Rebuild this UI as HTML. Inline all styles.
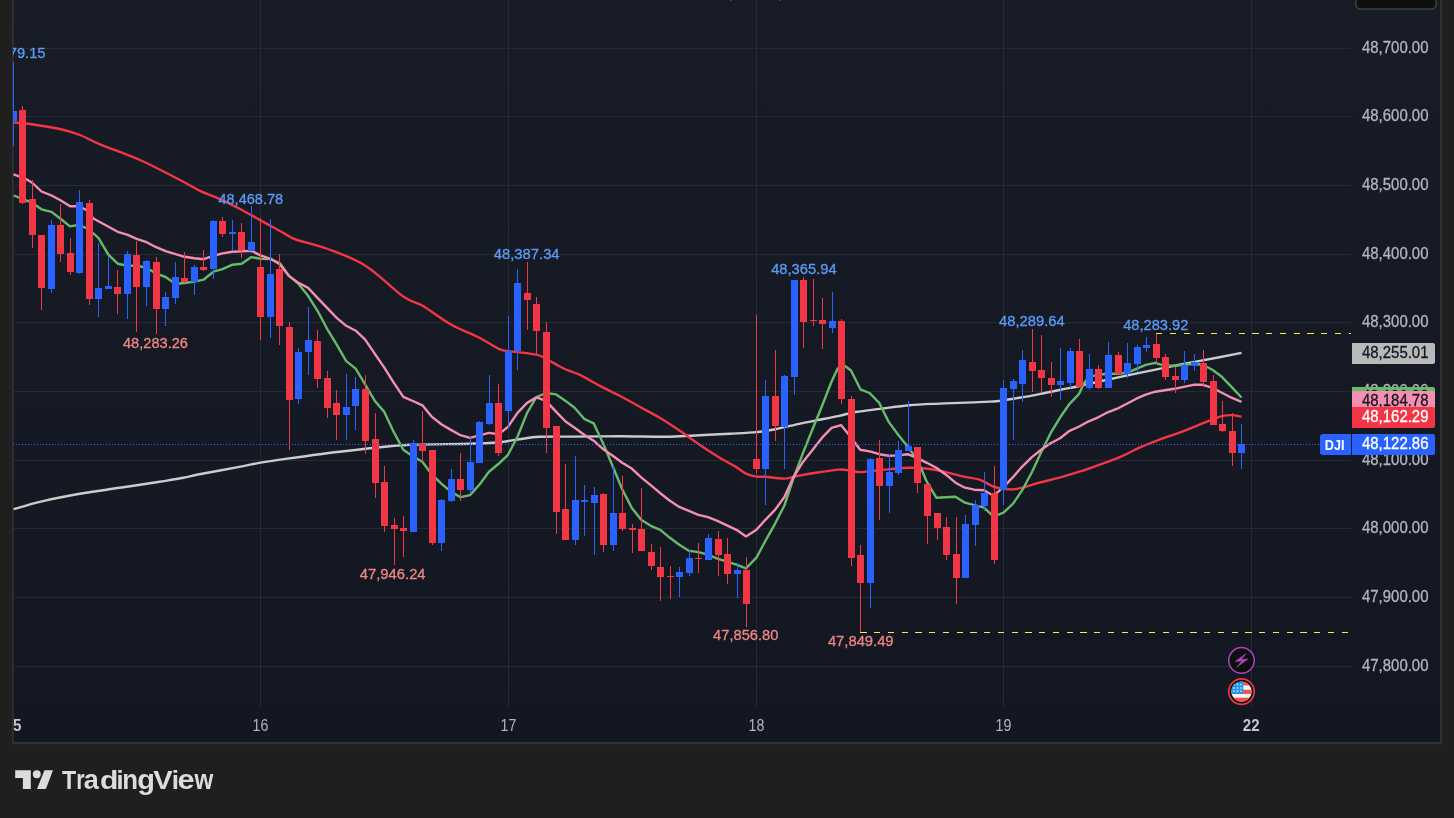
<!DOCTYPE html>
<html><head><meta charset="utf-8"><title>DJI chart</title>
<style>html,body{margin:0;padding:0;background:#1f1f1f;overflow:hidden}body{width:1454px;height:818px;position:relative;font-family:'Liberation Sans', sans-serif}svg{display:block;position:absolute;left:0;top:0;will-change:transform}text{font-family:'Liberation Sans', sans-serif}</style></head><body>
<svg width="1454" height="818" viewBox="0 0 1454 818">
<defs>
<linearGradient id="bg" x1="0" y1="0" x2="0" y2="1"><stop offset="0" stop-color="#181c27"/><stop offset="1" stop-color="#131722"/></linearGradient>
<clipPath id="pane"><rect x="13" y="0" width="1338.0" height="707"/></clipPath>
<clipPath id="chart"><rect x="13.7" y="0" width="1426.3" height="742"/></clipPath>
<clipPath id="flag"><circle cx="1241.5" cy="691.6" r="10.2"/></clipPath>
</defs>
<rect x="0" y="0" width="1454" height="818" fill="#1f1f1f"/>
<rect x="12" y="-2" width="1430" height="746.2" fill="#313131"/>
<rect x="13.7" y="-40" width="1426.3" height="747" fill="url(#bg)"/>
<rect x="13.7" y="707" width="1426.3" height="35" fill="#131722"/>
<g shape-rendering="crispEdges" fill="#262a35">
<rect x="13" y="48" width="1338" height="1"/>
<rect x="13" y="116" width="1338" height="1"/>
<rect x="13" y="185" width="1338" height="1"/>
<rect x="13" y="254" width="1338" height="1"/>
<rect x="13" y="322" width="1338" height="1"/>
<rect x="13" y="391" width="1338" height="1"/>
<rect x="13" y="460" width="1338" height="1"/>
<rect x="13" y="528" width="1338" height="1"/>
<rect x="13" y="597" width="1338" height="1"/>
<rect x="13" y="666" width="1338" height="1"/>
<rect x="260" y="0" width="1" height="707"/>
<rect x="508" y="0" width="1" height="707"/>
<rect x="756" y="0" width="1" height="707"/>
<rect x="1003" y="0" width="1" height="707"/>
<rect x="1251" y="0" width="1" height="707"/>
</g>
<g clip-path="url(#pane)">
<path d="M13.6,509.2 C18.0,508.0 28.9,504.4 39.9,501.8 C50.9,499.2 66.5,496.1 79.8,493.8 C93.1,491.5 106.4,489.8 119.7,487.8 C133.0,485.8 149.0,483.5 159.6,481.8 C170.2,480.1 176.9,479.1 183.5,477.8 C190.1,476.5 190.1,476.0 199.4,474.2 C208.7,472.4 229.3,468.8 239.3,466.9 C249.3,465.0 252.5,464.1 259.3,462.9 C266.1,461.7 269.9,461.1 280.0,459.6 C290.1,458.2 305.6,456.0 319.9,454.2 C334.2,452.4 350.9,450.4 365.8,448.8 C380.8,447.2 392.3,445.6 409.6,444.8 C426.9,444.0 454.5,444.2 469.5,443.8 C484.5,443.4 491.1,443.0 499.4,442.2 C507.7,441.4 512.6,440.1 519.3,439.2 C525.9,438.3 530.8,437.2 539.3,436.8 C547.8,436.4 556.6,436.7 570.0,436.6 C583.4,436.5 603.2,436.3 619.8,436.3 C636.4,436.3 656.4,436.9 669.7,436.7 C683.0,436.5 689.6,435.8 699.6,435.3 C709.6,434.8 720.0,434.2 729.5,433.7 C739.0,433.2 748.8,432.9 756.4,432.1 C764.0,431.4 768.2,430.6 775.4,429.2 C782.5,427.8 792.0,425.4 799.3,423.8 C806.6,422.2 812.6,421.1 819.3,419.8 C825.9,418.5 833.2,417.1 839.2,415.8 C845.2,414.5 848.9,413.1 855.6,412.0 C862.3,410.9 870.5,410.0 879.5,408.9 C888.5,407.8 899.4,406.1 909.4,405.2 C919.4,404.3 930.9,404.0 939.3,403.6 C947.7,403.2 951.2,403.2 959.7,402.9 C968.2,402.6 983.4,401.9 990.0,401.6 C996.6,401.3 994.7,401.5 999.6,400.9 C1004.5,400.3 1012.9,398.9 1019.5,397.8 C1026.1,396.7 1032.8,395.4 1039.4,394.1 C1046.1,392.8 1052.8,391.4 1059.4,390.0 C1066.1,388.6 1072.7,387.4 1079.3,386.0 C1085.9,384.6 1089.2,383.7 1099.3,381.5 C1109.3,379.3 1126.2,375.6 1139.6,372.8 C1152.9,370.0 1166.1,367.4 1179.4,364.8 C1192.7,362.2 1209.0,359.2 1219.3,357.2 C1229.6,355.2 1237.8,353.6 1241.5,352.9" fill="none" stroke="#cbcbcb" stroke-width="2.4" stroke-linejoin="round"/>
<path d="M13.6,122.5 C16.3,122.8 22.3,122.9 30.0,124.0 C37.7,125.1 51.7,127.2 60.0,129.0 C68.3,130.8 73.3,132.4 80.0,135.0 C86.7,137.6 90.0,140.1 100.0,144.3 C110.0,148.5 126.7,154.1 140.0,160.0 C153.3,165.9 170.0,174.9 180.0,180.0 C190.0,185.1 193.4,187.7 200.0,190.8 C206.6,193.9 212.9,195.8 219.5,198.8 C226.1,201.8 232.8,205.2 239.5,208.7 C246.2,212.2 252.7,216.0 259.4,219.7 C266.0,223.4 274.3,227.9 279.4,230.7 C284.5,233.5 287.1,235.1 290.0,236.7 C292.9,238.2 290.7,237.9 297.0,240.0 C303.3,242.1 316.4,244.7 327.9,249.0 C339.4,253.3 353.2,257.9 365.8,265.9 C378.4,273.9 394.2,290.1 403.7,296.8 C413.2,303.5 414.6,301.1 422.6,305.8 C430.6,310.5 442.0,319.5 451.5,324.8 C461.0,330.1 471.4,333.6 479.4,337.7 C487.4,341.8 494.6,346.9 499.4,349.1 C504.2,351.3 505.0,350.6 508.0,351.1 C511.0,351.6 512.8,351.5 517.5,352.1 C522.2,352.7 531.8,353.6 536.5,354.7 C541.2,355.8 542.2,356.8 546.0,358.7 C549.8,360.6 555.2,364.1 559.2,366.2 C563.2,368.3 566.5,369.8 570.0,371.2 C573.5,372.6 575.0,372.4 580.0,374.9 C585.0,377.3 593.3,382.4 599.9,385.9 C606.5,389.4 613.1,392.3 619.8,395.8 C626.4,399.3 633.1,403.1 639.8,406.8 C646.4,410.5 653.1,413.8 659.7,417.8 C666.4,421.8 673.1,426.2 679.7,430.7 C686.4,435.2 693.0,440.2 699.6,444.7 C706.2,449.2 713.6,454.0 719.6,457.7 C725.6,461.4 731.1,464.0 735.5,466.6 C739.9,469.2 742.5,471.9 746.0,473.6 C749.5,475.3 753.2,476.1 756.4,476.6 C759.6,477.1 760.7,476.5 765.4,476.8 C770.1,477.1 778.8,478.8 784.4,478.6 C790.0,478.4 793.5,476.7 799.3,475.6 C805.1,474.5 812.6,473.2 819.3,472.2 C825.9,471.2 834.1,469.9 839.2,469.6 C844.3,469.3 846.5,470.2 850.0,470.6 C853.5,471.0 855.0,472.2 860.0,472.1 C865.0,472.0 872.0,470.8 880.0,470.1 C888.0,469.4 899.8,468.0 907.8,467.8 C915.8,467.6 921.5,468.1 927.8,468.8 C934.1,469.5 939.7,470.8 945.7,472.1 C951.7,473.4 958.1,475.4 963.7,476.7 C969.4,478.0 974.6,478.0 979.6,479.7 C984.6,481.4 989.6,485.2 993.6,486.7 C997.6,488.2 1000.2,488.3 1003.5,488.7 C1006.8,489.1 1010.3,489.5 1013.5,489.3 C1016.7,489.1 1018.2,488.8 1022.5,487.7 C1026.8,486.6 1033.2,484.4 1039.4,482.7 C1045.6,481.0 1052.8,479.5 1059.4,477.7 C1066.1,475.9 1072.7,473.8 1079.3,471.7 C1085.9,469.6 1092.6,467.2 1099.3,464.8 C1106.0,462.4 1112.5,460.3 1119.2,457.4 C1125.9,454.5 1132.9,450.6 1139.6,447.6 C1146.3,444.6 1152.9,442.1 1159.5,439.6 C1166.1,437.1 1172.8,435.1 1179.4,432.6 C1186.1,430.1 1193.9,426.9 1199.4,424.7 C1204.9,422.5 1208.5,421.1 1212.3,419.7 C1216.0,418.3 1218.7,416.9 1221.9,416.1 C1225.1,415.3 1228.2,415.0 1231.5,415.1 C1234.8,415.2 1239.8,416.4 1241.5,416.7" fill="none" stroke="#f23645" stroke-width="2.4" stroke-linejoin="round"/>
<polyline points="13.6,195.5 22.5,198.9 32.5,202.9 41.5,209.3 51.5,211.9 60.5,218.8 70.0,226.4 79.4,224.8 89.4,229.8 98.4,237.8 108.4,254.7 117.7,263.7 127.7,265.7 136.7,265.7 146.6,267.7 156.2,273.7 165.6,277.0 175.6,284.0 184.6,283.0 194.5,281.6 203.5,279.7 213.5,271.7 222.5,269.1 232.5,264.7 241.7,263.7 251.4,257.1 260.4,258.7 270.6,259.1 280.0,263.3 289.0,275.9 298.5,283.9 308.1,295.8 317.5,310.8 327.1,328.8 336.7,344.7 346.2,361.1 355.7,368.6 365.2,384.5 374.7,400.7 384.3,411.9 393.7,431.9 403.3,449.8 412.8,456.2 422.4,461.8 432.0,474.7 441.3,483.7 450.9,491.7 460.5,497.1 470.0,495.1 479.4,484.7 489.0,471.7 498.6,463.8 508.0,454.8 517.5,436.8 527.1,412.9 536.5,397.0 546.0,393.0 556.2,394.4 565.6,400.9 574.6,407.8 584.1,418.8 593.7,423.4 603.3,443.7 612.7,466.3 622.2,489.2 631.8,507.9 641.2,519.8 650.7,525.8 660.3,529.8 669.9,537.8 679.3,544.8 688.8,550.7 698.4,552.1 708.0,554.7 717.4,558.7 726.9,561.7 736.5,564.7 746.0,568.3 756.4,557.7 765.4,540.8 775.0,523.8 784.4,505.5 793.5,478.2 803.1,452.7 812.7,428.8 822.1,405.8 831.6,381.5 837.6,368.7 843.0,364.5 851.0,370.5 860.4,389.3 869.6,393.0 879.4,403.2 888.7,421.9 898.2,434.8 907.8,446.8 917.4,459.8 926.8,481.7 936.3,497.7 945.9,497.3 955.5,496.7 964.9,502.7 974.4,505.2 984.0,507.6 993.6,516.6 1003.5,512.6 1013.1,503.7 1022.5,489.7 1032.1,471.7 1041.4,451.7 1050.6,433.2 1060.2,417.3 1069.6,403.8 1079.1,393.8 1083.7,383.9 1088.7,376.8 1098.3,374.8 1107.6,373.8 1117.2,373.8 1126.8,372.8 1136.4,368.8 1145.7,364.8 1155.3,362.8 1164.9,365.8 1174.5,365.8 1183.8,364.8 1193.4,363.8 1203.0,364.8 1212.3,369.8 1221.9,376.8 1231.5,386.8 1241.5,397.5" fill="none" stroke="#66bb6a" stroke-width="2.4" stroke-linejoin="round" stroke-linecap="butt"/>
<polyline points="13.6,174.3 26.0,179.0 32.5,183.0 41.5,191.5 51.5,195.5 60.5,200.3 70.0,206.3 79.4,206.3 85.8,209.8 93.8,218.8 117.7,231.8 127.7,234.8 136.7,238.8 146.6,242.2 156.2,247.2 165.6,251.2 175.6,254.2 184.6,256.8 194.5,258.2 203.5,259.2 213.5,255.8 222.5,253.4 232.5,251.8 241.7,251.4 251.4,250.8 260.4,255.4 270.6,258.8 279.7,264.3 289.0,275.9 298.5,282.9 308.1,287.9 317.5,297.8 327.1,307.8 336.7,317.8 346.2,325.8 355.7,330.7 365.2,339.7 374.7,353.7 384.3,367.6 393.7,382.6 403.3,396.8 412.8,401.0 422.4,405.3 432.0,416.9 441.3,424.3 450.9,429.9 460.5,435.2 470.0,437.8 479.4,435.4 489.0,432.9 498.6,434.2 508.0,426.9 517.5,412.9 527.1,402.9 536.5,397.4 546.0,400.9 556.2,411.9 565.6,421.5 574.6,427.8 584.1,434.7 593.7,440.7 603.3,449.3 612.7,455.7 622.2,462.7 631.8,468.6 641.2,477.3 650.7,485.2 660.3,493.2 669.9,500.8 679.3,506.9 688.8,510.9 698.4,514.8 708.0,517.2 717.4,520.8 726.9,525.4 736.5,529.8 746.0,536.4 756.4,529.8 765.4,519.8 775.0,509.9 784.4,497.0 793.5,477.0 803.1,461.7 812.7,449.7 822.1,437.7 831.6,427.8 841.2,425.2 850.8,437.0 860.1,449.8 869.7,451.4 879.3,454.2 888.7,455.8 898.2,455.4 907.8,454.2 917.4,458.2 926.8,462.8 936.3,467.8 945.9,474.7 955.5,482.7 964.9,487.7 974.4,489.7 984.0,490.3 993.5,495.7 1003.0,487.7 1012.5,477.7 1022.0,466.8 1031.6,457.4 1041.1,449.7 1050.6,443.2 1060.1,438.2 1069.6,430.8 1079.2,426.5 1088.7,421.3 1098.2,417.3 1107.7,412.3 1117.2,408.7 1126.8,403.7 1136.4,398.7 1145.7,394.7 1155.3,391.7 1164.9,390.3 1174.5,388.8 1183.8,386.8 1193.4,384.8 1203.0,384.8 1212.3,387.8 1221.9,392.7 1231.5,397.7 1241.5,401.9" fill="none" stroke="#f48fb1" stroke-width="2.4" stroke-linejoin="round" stroke-linecap="butt"/>
<g shape-rendering="crispEdges">
<rect x="13" y="62" width="1" height="84" fill="#2962ff"/>
<rect x="10" y="111" width="7" height="10" fill="#2962ff"/>
<rect x="22" y="106" width="1" height="98" fill="#f23645"/>
<rect x="19" y="110" width="7" height="93" fill="#f23645"/>
<rect x="32" y="180" width="1" height="68" fill="#f23645"/>
<rect x="29" y="199" width="7" height="36" fill="#f23645"/>
<rect x="41" y="235" width="1" height="75" fill="#f23645"/>
<rect x="38" y="235" width="7" height="53" fill="#f23645"/>
<rect x="51" y="220" width="1" height="73" fill="#2962ff"/>
<rect x="48" y="225" width="7" height="64" fill="#2962ff"/>
<rect x="60" y="204" width="1" height="58" fill="#f23645"/>
<rect x="57" y="225" width="7" height="29" fill="#f23645"/>
<rect x="70" y="238" width="1" height="37" fill="#f23645"/>
<rect x="67" y="253" width="7" height="19" fill="#f23645"/>
<rect x="79" y="190" width="1" height="84" fill="#2962ff"/>
<rect x="76" y="202" width="7" height="71" fill="#2962ff"/>
<rect x="89" y="200" width="1" height="105" fill="#f23645"/>
<rect x="86" y="203" width="7" height="96" fill="#f23645"/>
<rect x="98" y="243" width="1" height="74" fill="#2962ff"/>
<rect x="95" y="288" width="7" height="11" fill="#2962ff"/>
<rect x="108" y="256" width="1" height="33" fill="#2962ff"/>
<rect x="105" y="286" width="7" height="3" fill="#2962ff"/>
<rect x="117" y="270" width="1" height="44" fill="#f23645"/>
<rect x="114" y="287" width="7" height="7" fill="#f23645"/>
<rect x="127" y="251" width="1" height="68" fill="#2962ff"/>
<rect x="124" y="254" width="7" height="40" fill="#2962ff"/>
<rect x="136" y="241" width="1" height="91" fill="#f23645"/>
<rect x="133" y="255" width="7" height="32" fill="#f23645"/>
<rect x="146" y="260" width="1" height="46" fill="#2962ff"/>
<rect x="143" y="261" width="7" height="26" fill="#2962ff"/>
<rect x="156" y="257" width="1" height="77" fill="#f23645"/>
<rect x="153" y="262" width="7" height="47" fill="#f23645"/>
<rect x="165" y="292" width="1" height="34" fill="#2962ff"/>
<rect x="162" y="297" width="7" height="12" fill="#2962ff"/>
<rect x="175" y="262" width="1" height="42" fill="#2962ff"/>
<rect x="172" y="277" width="7" height="21" fill="#2962ff"/>
<rect x="184" y="252" width="1" height="31" fill="#f23645"/>
<rect x="181" y="278" width="7" height="4" fill="#f23645"/>
<rect x="194" y="265" width="1" height="30" fill="#2962ff"/>
<rect x="191" y="267" width="7" height="15" fill="#2962ff"/>
<rect x="203" y="250" width="1" height="21" fill="#f23645"/>
<rect x="200" y="267" width="7" height="3" fill="#f23645"/>
<rect x="213" y="220" width="1" height="59" fill="#2962ff"/>
<rect x="210" y="221" width="7" height="48" fill="#2962ff"/>
<rect x="222" y="217" width="1" height="20" fill="#f23645"/>
<rect x="219" y="221" width="7" height="13" fill="#f23645"/>
<rect x="232" y="220" width="1" height="31" fill="#2962ff"/>
<rect x="229" y="232" width="7" height="2" fill="#2962ff"/>
<rect x="241" y="223" width="1" height="35" fill="#f23645"/>
<rect x="238" y="232" width="7" height="18" fill="#f23645"/>
<rect x="251" y="206" width="1" height="45" fill="#2962ff"/>
<rect x="248" y="242" width="7" height="9" fill="#2962ff"/>
<rect x="260" y="218" width="1" height="122" fill="#f23645"/>
<rect x="257" y="267" width="7" height="50" fill="#f23645"/>
<rect x="270" y="219" width="1" height="119" fill="#2962ff"/>
<rect x="267" y="274" width="7" height="43" fill="#2962ff"/>
<rect x="279" y="254" width="1" height="91" fill="#f23645"/>
<rect x="276" y="269" width="7" height="57" fill="#f23645"/>
<rect x="289" y="322" width="1" height="128" fill="#f23645"/>
<rect x="286" y="327" width="7" height="73" fill="#f23645"/>
<rect x="298" y="348" width="1" height="56" fill="#2962ff"/>
<rect x="295" y="352" width="7" height="47" fill="#2962ff"/>
<rect x="308" y="307" width="1" height="68" fill="#2962ff"/>
<rect x="305" y="340" width="7" height="12" fill="#2962ff"/>
<rect x="317" y="330" width="1" height="58" fill="#f23645"/>
<rect x="314" y="341" width="7" height="38" fill="#f23645"/>
<rect x="327" y="371" width="1" height="47" fill="#f23645"/>
<rect x="324" y="378" width="7" height="30" fill="#f23645"/>
<rect x="336" y="390" width="1" height="50" fill="#f23645"/>
<rect x="333" y="403" width="7" height="12" fill="#f23645"/>
<rect x="346" y="374" width="1" height="66" fill="#2962ff"/>
<rect x="343" y="407" width="7" height="8" fill="#2962ff"/>
<rect x="355" y="377" width="1" height="53" fill="#2962ff"/>
<rect x="352" y="389" width="7" height="17" fill="#2962ff"/>
<rect x="365" y="375" width="1" height="79" fill="#f23645"/>
<rect x="362" y="389" width="7" height="52" fill="#f23645"/>
<rect x="375" y="413" width="1" height="85" fill="#f23645"/>
<rect x="372" y="439" width="7" height="44" fill="#f23645"/>
<rect x="384" y="466" width="1" height="66" fill="#f23645"/>
<rect x="381" y="482" width="7" height="44" fill="#f23645"/>
<rect x="394" y="518" width="1" height="47" fill="#f23645"/>
<rect x="391" y="525" width="7" height="4" fill="#f23645"/>
<rect x="403" y="516" width="1" height="41" fill="#f23645"/>
<rect x="400" y="528" width="7" height="3" fill="#f23645"/>
<rect x="413" y="440" width="1" height="92" fill="#2962ff"/>
<rect x="410" y="443" width="7" height="89" fill="#2962ff"/>
<rect x="422" y="411" width="1" height="51" fill="#f23645"/>
<rect x="419" y="444" width="7" height="7" fill="#f23645"/>
<rect x="432" y="450" width="1" height="95" fill="#f23645"/>
<rect x="429" y="450" width="7" height="93" fill="#f23645"/>
<rect x="441" y="499" width="1" height="52" fill="#2962ff"/>
<rect x="438" y="500" width="7" height="43" fill="#2962ff"/>
<rect x="451" y="469" width="1" height="33" fill="#2962ff"/>
<rect x="448" y="479" width="7" height="22" fill="#2962ff"/>
<rect x="460" y="453" width="1" height="48" fill="#f23645"/>
<rect x="457" y="479" width="7" height="11" fill="#f23645"/>
<rect x="470" y="437" width="1" height="57" fill="#2962ff"/>
<rect x="467" y="462" width="7" height="28" fill="#2962ff"/>
<rect x="479" y="421" width="1" height="42" fill="#2962ff"/>
<rect x="476" y="422" width="7" height="41" fill="#2962ff"/>
<rect x="489" y="375" width="1" height="50" fill="#2962ff"/>
<rect x="486" y="403" width="7" height="21" fill="#2962ff"/>
<rect x="498" y="384" width="1" height="72" fill="#f23645"/>
<rect x="495" y="403" width="7" height="50" fill="#f23645"/>
<rect x="508" y="316" width="1" height="112" fill="#2962ff"/>
<rect x="505" y="351" width="7" height="60" fill="#2962ff"/>
<rect x="517" y="269" width="1" height="101" fill="#2962ff"/>
<rect x="514" y="283" width="7" height="68" fill="#2962ff"/>
<rect x="527" y="262" width="1" height="68" fill="#f23645"/>
<rect x="524" y="293" width="7" height="7" fill="#f23645"/>
<rect x="536" y="297" width="1" height="57" fill="#f23645"/>
<rect x="533" y="304" width="7" height="27" fill="#f23645"/>
<rect x="546" y="322" width="1" height="131" fill="#f23645"/>
<rect x="543" y="332" width="7" height="96" fill="#f23645"/>
<rect x="556" y="426" width="1" height="108" fill="#f23645"/>
<rect x="553" y="426" width="7" height="86" fill="#f23645"/>
<rect x="565" y="464" width="1" height="76" fill="#f23645"/>
<rect x="562" y="509" width="7" height="31" fill="#f23645"/>
<rect x="575" y="456" width="1" height="89" fill="#2962ff"/>
<rect x="572" y="500" width="7" height="40" fill="#2962ff"/>
<rect x="584" y="485" width="1" height="51" fill="#2962ff"/>
<rect x="581" y="500" width="7" height="2" fill="#2962ff"/>
<rect x="594" y="487" width="1" height="68" fill="#2962ff"/>
<rect x="591" y="495" width="7" height="8" fill="#2962ff"/>
<rect x="603" y="493" width="1" height="59" fill="#f23645"/>
<rect x="600" y="494" width="7" height="51" fill="#f23645"/>
<rect x="613" y="465" width="1" height="86" fill="#2962ff"/>
<rect x="610" y="513" width="7" height="32" fill="#2962ff"/>
<rect x="622" y="476" width="1" height="55" fill="#f23645"/>
<rect x="619" y="513" width="7" height="16" fill="#f23645"/>
<rect x="632" y="524" width="1" height="29" fill="#f23645"/>
<rect x="629" y="528" width="7" height="2" fill="#f23645"/>
<rect x="641" y="488" width="1" height="63" fill="#f23645"/>
<rect x="638" y="529" width="7" height="22" fill="#f23645"/>
<rect x="651" y="544" width="1" height="26" fill="#f23645"/>
<rect x="648" y="552" width="7" height="14" fill="#f23645"/>
<rect x="660" y="547" width="1" height="54" fill="#f23645"/>
<rect x="657" y="567" width="7" height="10" fill="#f23645"/>
<rect x="670" y="566" width="1" height="33" fill="#f23645"/>
<rect x="667" y="576" width="7" height="1" fill="#f23645"/>
<rect x="679" y="567" width="1" height="30" fill="#2962ff"/>
<rect x="676" y="572" width="7" height="5" fill="#2962ff"/>
<rect x="689" y="550" width="1" height="26" fill="#2962ff"/>
<rect x="686" y="558" width="7" height="15" fill="#2962ff"/>
<rect x="698" y="543" width="1" height="30" fill="#f23645"/>
<rect x="695" y="558" width="7" height="1" fill="#f23645"/>
<rect x="708" y="534" width="1" height="26" fill="#2962ff"/>
<rect x="705" y="538" width="7" height="22" fill="#2962ff"/>
<rect x="718" y="531" width="1" height="45" fill="#f23645"/>
<rect x="715" y="539" width="7" height="16" fill="#f23645"/>
<rect x="727" y="538" width="1" height="46" fill="#f23645"/>
<rect x="724" y="554" width="7" height="20" fill="#f23645"/>
<rect x="737" y="563" width="1" height="35" fill="#2962ff"/>
<rect x="734" y="570" width="7" height="4" fill="#2962ff"/>
<rect x="746" y="557" width="1" height="70" fill="#f23645"/>
<rect x="743" y="570" width="7" height="34" fill="#f23645"/>
<rect x="756" y="315" width="1" height="159" fill="#f23645"/>
<rect x="753" y="459" width="7" height="10" fill="#f23645"/>
<rect x="765" y="380" width="1" height="125" fill="#2962ff"/>
<rect x="762" y="396" width="7" height="73" fill="#2962ff"/>
<rect x="775" y="350" width="1" height="91" fill="#f23645"/>
<rect x="772" y="396" width="7" height="30" fill="#f23645"/>
<rect x="784" y="375" width="1" height="94" fill="#2962ff"/>
<rect x="781" y="376" width="7" height="51" fill="#2962ff"/>
<rect x="794" y="280" width="1" height="115" fill="#2962ff"/>
<rect x="791" y="280" width="7" height="97" fill="#2962ff"/>
<rect x="803" y="277" width="1" height="71" fill="#f23645"/>
<rect x="800" y="280" width="7" height="42" fill="#f23645"/>
<rect x="813" y="279" width="1" height="47" fill="#f23645"/>
<rect x="810" y="320" width="7" height="1" fill="#f23645"/>
<rect x="822" y="298" width="1" height="51" fill="#f23645"/>
<rect x="819" y="320" width="7" height="4" fill="#f23645"/>
<rect x="832" y="292" width="1" height="41" fill="#2962ff"/>
<rect x="829" y="321" width="7" height="7" fill="#2962ff"/>
<rect x="841" y="319" width="1" height="85" fill="#f23645"/>
<rect x="838" y="321" width="7" height="78" fill="#f23645"/>
<rect x="851" y="396" width="1" height="170" fill="#f23645"/>
<rect x="848" y="399" width="7" height="159" fill="#f23645"/>
<rect x="860" y="545" width="1" height="87" fill="#f23645"/>
<rect x="857" y="555" width="7" height="28" fill="#f23645"/>
<rect x="870" y="458" width="1" height="150" fill="#2962ff"/>
<rect x="867" y="459" width="7" height="124" fill="#2962ff"/>
<rect x="879" y="440" width="1" height="80" fill="#f23645"/>
<rect x="876" y="458" width="7" height="28" fill="#f23645"/>
<rect x="889" y="454" width="1" height="59" fill="#2962ff"/>
<rect x="886" y="472" width="7" height="14" fill="#2962ff"/>
<rect x="898" y="441" width="1" height="34" fill="#2962ff"/>
<rect x="895" y="450" width="7" height="23" fill="#2962ff"/>
<rect x="908" y="401" width="1" height="50" fill="#2962ff"/>
<rect x="905" y="446" width="7" height="5" fill="#2962ff"/>
<rect x="917" y="447" width="1" height="46" fill="#f23645"/>
<rect x="914" y="447" width="7" height="36" fill="#f23645"/>
<rect x="927" y="484" width="1" height="60" fill="#f23645"/>
<rect x="924" y="484" width="7" height="32" fill="#f23645"/>
<rect x="937" y="513" width="1" height="27" fill="#f23645"/>
<rect x="934" y="513" width="7" height="15" fill="#f23645"/>
<rect x="946" y="517" width="1" height="43" fill="#f23645"/>
<rect x="943" y="527" width="7" height="28" fill="#f23645"/>
<rect x="956" y="517" width="1" height="87" fill="#f23645"/>
<rect x="953" y="554" width="7" height="24" fill="#f23645"/>
<rect x="965" y="515" width="1" height="63" fill="#2962ff"/>
<rect x="962" y="524" width="7" height="54" fill="#2962ff"/>
<rect x="975" y="500" width="1" height="46" fill="#2962ff"/>
<rect x="972" y="505" width="7" height="20" fill="#2962ff"/>
<rect x="984" y="472" width="1" height="39" fill="#2962ff"/>
<rect x="981" y="493" width="7" height="13" fill="#2962ff"/>
<rect x="994" y="466" width="1" height="98" fill="#f23645"/>
<rect x="991" y="493" width="7" height="67" fill="#f23645"/>
<rect x="1003" y="380" width="1" height="125" fill="#2962ff"/>
<rect x="1000" y="388" width="7" height="102" fill="#2962ff"/>
<rect x="1013" y="379" width="1" height="61" fill="#2962ff"/>
<rect x="1010" y="381" width="7" height="8" fill="#2962ff"/>
<rect x="1022" y="350" width="1" height="52" fill="#2962ff"/>
<rect x="1019" y="360" width="7" height="24" fill="#2962ff"/>
<rect x="1032" y="329" width="1" height="63" fill="#f23645"/>
<rect x="1029" y="362" width="7" height="9" fill="#f23645"/>
<rect x="1041" y="335" width="1" height="57" fill="#f23645"/>
<rect x="1038" y="370" width="7" height="8" fill="#f23645"/>
<rect x="1051" y="362" width="1" height="35" fill="#f23645"/>
<rect x="1048" y="378" width="7" height="7" fill="#f23645"/>
<rect x="1060" y="348" width="1" height="52" fill="#2962ff"/>
<rect x="1057" y="381" width="7" height="4" fill="#2962ff"/>
<rect x="1070" y="348" width="1" height="40" fill="#2962ff"/>
<rect x="1067" y="351" width="7" height="32" fill="#2962ff"/>
<rect x="1079" y="339" width="1" height="48" fill="#f23645"/>
<rect x="1076" y="351" width="7" height="36" fill="#f23645"/>
<rect x="1089" y="354" width="1" height="36" fill="#2962ff"/>
<rect x="1086" y="369" width="7" height="19" fill="#2962ff"/>
<rect x="1098" y="365" width="1" height="24" fill="#f23645"/>
<rect x="1095" y="369" width="7" height="19" fill="#f23645"/>
<rect x="1108" y="342" width="1" height="46" fill="#2962ff"/>
<rect x="1105" y="355" width="7" height="33" fill="#2962ff"/>
<rect x="1118" y="352" width="1" height="22" fill="#f23645"/>
<rect x="1115" y="355" width="7" height="19" fill="#f23645"/>
<rect x="1127" y="343" width="1" height="35" fill="#2962ff"/>
<rect x="1124" y="363" width="7" height="11" fill="#2962ff"/>
<rect x="1137" y="345" width="1" height="27" fill="#2962ff"/>
<rect x="1134" y="347" width="7" height="17" fill="#2962ff"/>
<rect x="1146" y="337" width="1" height="15" fill="#2962ff"/>
<rect x="1143" y="345" width="7" height="3" fill="#2962ff"/>
<rect x="1156" y="333" width="1" height="30" fill="#f23645"/>
<rect x="1153" y="344" width="7" height="14" fill="#f23645"/>
<rect x="1165" y="354" width="1" height="26" fill="#f23645"/>
<rect x="1162" y="357" width="7" height="20" fill="#f23645"/>
<rect x="1175" y="367" width="1" height="26" fill="#f23645"/>
<rect x="1172" y="376" width="7" height="4" fill="#f23645"/>
<rect x="1184" y="351" width="1" height="32" fill="#2962ff"/>
<rect x="1181" y="365" width="7" height="15" fill="#2962ff"/>
<rect x="1194" y="354" width="1" height="17" fill="#2962ff"/>
<rect x="1191" y="362" width="7" height="4" fill="#2962ff"/>
<rect x="1203" y="350" width="1" height="37" fill="#f23645"/>
<rect x="1200" y="363" width="7" height="19" fill="#f23645"/>
<rect x="1213" y="375" width="1" height="50" fill="#f23645"/>
<rect x="1210" y="381" width="7" height="44" fill="#f23645"/>
<rect x="1222" y="401" width="1" height="31" fill="#f23645"/>
<rect x="1219" y="424" width="7" height="7" fill="#f23645"/>
<rect x="1232" y="413" width="1" height="53" fill="#f23645"/>
<rect x="1229" y="431" width="7" height="22" fill="#f23645"/>
<rect x="1241" y="424" width="1" height="45" fill="#2962ff"/>
<rect x="1238" y="444" width="7" height="9" fill="#2962ff"/>
</g>
<line x1="13" y1="444.5" x2="1320" y2="444.5" stroke="#2962ff" stroke-width="1" stroke-dasharray="1 2" shape-rendering="crispEdges"/>
<line x1="1156" y1="333.5" x2="1351" y2="333.5" stroke="#ffeb3b" stroke-width="1" stroke-dasharray="6.25 7.5" shape-rendering="crispEdges"/>
<line x1="860.4" y1="632.5" x2="1348.5" y2="632.5" stroke="#ffeb3b" stroke-width="1" stroke-dasharray="6.25 7.5" shape-rendering="crispEdges"/>
<text x="-19.9" y="58.2" font-size="15.2" fill="#5b9cf6" stroke="#5b9cf6" stroke-width="0.3" textLength="65.4" lengthAdjust="spacingAndGlyphs">48,679.15</text>
<text x="218.4" y="204.1" font-size="15.2" fill="#5b9cf6" stroke="#5b9cf6" stroke-width="0.3" textLength="64.8" lengthAdjust="spacingAndGlyphs">48,468.78</text>
<text x="123.0" y="348.0" font-size="15.2" fill="#f08585" stroke="#f08585" stroke-width="0.3" textLength="65.0" lengthAdjust="spacingAndGlyphs">48,283.26</text>
<text x="493.8" y="259.2" font-size="15.2" fill="#5b9cf6" stroke="#5b9cf6" stroke-width="0.3" textLength="65.8" lengthAdjust="spacingAndGlyphs">48,387.34</text>
<text x="359.8" y="579.3" font-size="15.2" fill="#f08585" stroke="#f08585" stroke-width="0.3" textLength="65.8" lengthAdjust="spacingAndGlyphs">47,946.24</text>
<text x="771.2" y="274.2" font-size="15.2" fill="#5b9cf6" stroke="#5b9cf6" stroke-width="0.3" textLength="65.4" lengthAdjust="spacingAndGlyphs">48,365.94</text>
<text x="713.1" y="639.8" font-size="15.2" fill="#f08585" stroke="#f08585" stroke-width="0.3" textLength="65.3" lengthAdjust="spacingAndGlyphs">47,856.80</text>
<text x="827.9" y="645.6" font-size="15.2" fill="#f08585" stroke="#f08585" stroke-width="0.3" textLength="65.7" lengthAdjust="spacingAndGlyphs">47,849.49</text>
<text x="999.0" y="326.2" font-size="15.2" fill="#5b9cf6" stroke="#5b9cf6" stroke-width="0.3" textLength="65.8" lengthAdjust="spacingAndGlyphs">48,289.64</text>
<text x="1123.2" y="330.2" font-size="15.2" fill="#5b9cf6" stroke="#5b9cf6" stroke-width="0.3" textLength="65.2" lengthAdjust="spacingAndGlyphs">48,283.92</text>
</g>
<rect x="730" y="0" width="1.6" height="0.8" fill="#2456d8"/>
<rect x="779" y="0" width="1.6" height="0.8" fill="#2456d8"/>
<circle cx="1241.5" cy="660.4" r="14" fill="#0c0e14"/>
<circle cx="1241.5" cy="660.4" r="12.8" fill="#0f0f0f" stroke="#ab47bc" stroke-width="1.5"/>
<path d="M1246.0 653.6 L1235.2 661.4 L1241.8 661.0 L1237.0 667.1 L1248.0 659.1 L1241.4 659.5 Z" fill="#ab47bc" stroke="#ab47bc" stroke-width="0.5" stroke-linejoin="round"/>
<circle cx="1241.5" cy="691.6" r="14" fill="#0c0e14"/>
<circle cx="1241.5" cy="691.6" r="12.8" fill="#0f0f0f" stroke="#f23645" stroke-width="1.7"/>
<g clip-path="url(#flag)">
<rect x="1230" y="680" width="23" height="24" fill="#f5f5f5"/>
<rect x="1230" y="680.0" width="23" height="5.4" fill="#ef5350"/>
<rect x="1230" y="689.7" width="23" height="4.2" fill="#ef5350"/>
<rect x="1230" y="697.7" width="23" height="5.3" fill="#ef5350"/>
<rect x="1230" y="680" width="13.3" height="13.9" fill="#2196f3"/>
<rect x="1233.2" y="683.8" width="1.4" height="1.4" fill="#e3f2fd"/>
<rect x="1236.7" y="683.8" width="1.4" height="1.4" fill="#e3f2fd"/>
<rect x="1240.3" y="683.8" width="1.4" height="1.4" fill="#e3f2fd"/>
<rect x="1233.2" y="687.3" width="1.4" height="1.4" fill="#e3f2fd"/>
<rect x="1236.7" y="687.3" width="1.4" height="1.4" fill="#e3f2fd"/>
<rect x="1240.3" y="687.3" width="1.4" height="1.4" fill="#e3f2fd"/>
<rect x="1233.2" y="690.4" width="1.4" height="1.4" fill="#e3f2fd"/>
<rect x="1236.7" y="690.4" width="1.4" height="1.4" fill="#e3f2fd"/>
<rect x="1240.3" y="690.4" width="1.4" height="1.4" fill="#e3f2fd"/>
</g>
<path d="M1323 434 H1351 V455 H1323 a3 3 0 0 1 -3 -3 V437 a3 3 0 0 1 3 -3 Z" fill="#2962ff"/>
<text x="1324.8" y="449.7" font-size="14.5" font-weight="bold" fill="#ffffff" textLength="19.6" lengthAdjust="spacingAndGlyphs">DJI</text>
<text x="1362" y="53.0" font-size="16.1" fill="#b2b5be" stroke="#b2b5be" stroke-width="0.3" textLength="66.5" lengthAdjust="spacingAndGlyphs">48,700.00</text>
<text x="1362" y="121.0" font-size="16.1" fill="#b2b5be" stroke="#b2b5be" stroke-width="0.3" textLength="66.5" lengthAdjust="spacingAndGlyphs">48,600.00</text>
<text x="1362" y="190.0" font-size="16.1" fill="#b2b5be" stroke="#b2b5be" stroke-width="0.3" textLength="66.5" lengthAdjust="spacingAndGlyphs">48,500.00</text>
<text x="1362" y="259.0" font-size="16.1" fill="#b2b5be" stroke="#b2b5be" stroke-width="0.3" textLength="66.5" lengthAdjust="spacingAndGlyphs">48,400.00</text>
<text x="1362" y="327.0" font-size="16.1" fill="#b2b5be" stroke="#b2b5be" stroke-width="0.3" textLength="66.5" lengthAdjust="spacingAndGlyphs">48,300.00</text>
<text x="1362" y="396.0" font-size="16.1" fill="#b2b5be" stroke="#b2b5be" stroke-width="0.3" textLength="66.5" lengthAdjust="spacingAndGlyphs">48,200.00</text>
<text x="1362" y="465.0" font-size="16.1" fill="#b2b5be" stroke="#b2b5be" stroke-width="0.3" textLength="66.5" lengthAdjust="spacingAndGlyphs">48,100.00</text>
<text x="1362" y="533.0" font-size="16.1" fill="#b2b5be" stroke="#b2b5be" stroke-width="0.3" textLength="66.5" lengthAdjust="spacingAndGlyphs">48,000.00</text>
<text x="1362" y="602.0" font-size="16.1" fill="#b2b5be" stroke="#b2b5be" stroke-width="0.3" textLength="66.5" lengthAdjust="spacingAndGlyphs">47,900.00</text>
<text x="1362" y="671.0" font-size="16.1" fill="#b2b5be" stroke="#b2b5be" stroke-width="0.3" textLength="66.5" lengthAdjust="spacingAndGlyphs">47,800.00</text>
<path d="M1352 343 H1433 a2 2 0 0 1 2 2 V362 a2 2 0 0 1 -2 2 H1352 Z" fill="#b9b9b9"/>
<text x="1362" y="358.4" font-size="16.1" fill="#131722" stroke="#131722" stroke-width="0.3" textLength="66.5" lengthAdjust="spacingAndGlyphs">48,255.01</text>
<path d="M1352 387 H1433 a2 2 0 0 1 2 2 V406 a2 2 0 0 1 -2 2 H1352 Z" fill="#66bb6a"/>
<text x="1362" y="402.4" font-size="16.1" fill="#131722" stroke="#131722" stroke-width="0.3" textLength="66.5" lengthAdjust="spacingAndGlyphs">48,190.93</text>
<path d="M1352 391 H1433 a2 2 0 0 1 2 2 V410 a2 2 0 0 1 -2 2 H1352 Z" fill="#f48fb1"/>
<text x="1362" y="406.4" font-size="16.1" fill="#131722" stroke="#131722" stroke-width="0.3" textLength="66.5" lengthAdjust="spacingAndGlyphs">48,184.78</text>
<path d="M1352 407 H1433 a2 2 0 0 1 2 2 V426 a2 2 0 0 1 -2 2 H1352 Z" fill="#f23645"/>
<text x="1362" y="422.4" font-size="16.1" fill="#ffffff" stroke="#ffffff" stroke-width="0.3" textLength="66.5" lengthAdjust="spacingAndGlyphs">48,162.29</text>
<path d="M1352 434 H1433 a2 2 0 0 1 2 2 V453 a2 2 0 0 1 -2 2 H1352 Z" fill="#2962ff"/>
<text x="1362" y="449.4" font-size="16.1" fill="#ffffff" stroke="#ffffff" stroke-width="0.3" textLength="66.5" lengthAdjust="spacingAndGlyphs">48,122.86</text>
<g clip-path="url(#chart)" fill="#c4c7cf" font-size="16.2">
<text x="4.6" y="731.3" font-weight="bold" textLength="16.8" lengthAdjust="spacingAndGlyphs">15</text>
<text x="252.6" y="731.3" fill="#b2b5be" textLength="15.8" lengthAdjust="spacingAndGlyphs">16</text>
<text x="500.6" y="731.3" fill="#b2b5be" textLength="15.8" lengthAdjust="spacingAndGlyphs">17</text>
<text x="748.6" y="731.3" fill="#b2b5be" textLength="15.8" lengthAdjust="spacingAndGlyphs">18</text>
<text x="995.6" y="731.3" fill="#b2b5be" textLength="15.8" lengthAdjust="spacingAndGlyphs">19</text>
<text x="1242.8" y="731.3" font-weight="bold" textLength="16.8" lengthAdjust="spacingAndGlyphs">22</text>
</g>
<rect x="1355.9" y="-10" width="80.2" height="19" rx="4.5" ry="4.5" fill="#0f0f0f" stroke="#3e3e3e" stroke-width="1.6"/>
<path d="M15.2 770.2 H30.8 V788.9 H22.9 V777.9 H15.2 Z" fill="#dcdcdc"/>
<circle cx="36.8" cy="774.2" r="3.95" fill="#dcdcdc"/>
<path d="M44.5 770.2 H53 L45.9 788.9 H37 Z" fill="#dcdcdc"/>
<g font-size="25.4" font-weight="bold" fill="#dcdcdc">
<text transform="translate(61.93 788.8) scale(0.913 1.00)">T</text>
<text transform="translate(76.16 788.8) scale(0.846 1.12)">r</text>
<text transform="translate(83.65 788.8) scale(1.066 1.12)">a</text>
<text transform="translate(99.91 788.8) scale(1.188 1.00)">d</text>
<text transform="translate(116.50 788.8) scale(1.000 1.00)">i</text>
<text transform="translate(122.27 788.8) scale(1.016 1.12)">n</text>
<text transform="translate(137.16 788.8) scale(1.141 1.12)">g</text>
<text transform="translate(153.27 788.8) scale(1.145 1.00)">V</text>
<text transform="translate(171.65 788.8) scale(1.029 1.00)">i</text>
<text transform="translate(177.60 788.8) scale(1.203 1.12)">e</text>
<text transform="translate(194.59 788.8) scale(0.950 1.12)">w</text>
</g>
</svg></body></html>
